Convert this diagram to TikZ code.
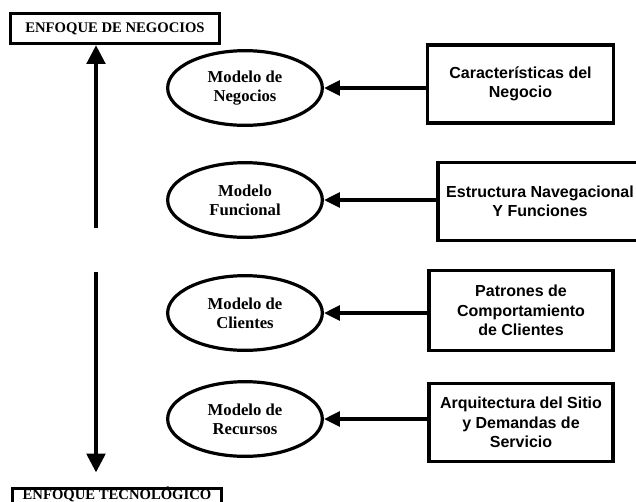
\documentclass[tikz,border=0pt]{standalone}
\usepackage{fontspec}
\setmainfont{Liberation Serif}
\setsansfont{Liberation Sans}
\usepackage{tikz}
\usetikzlibrary{shapes,arrows.meta,positioning,calc}

\begin{document}
\begin{tikzpicture}[x=0.75pt,y=-0.75pt,
      enfoque/.style={rectangle,draw,line width=2.2pt,align=center,inner sep=2pt,
        minimum width=157pt,font=\fontsize{11}{13}\selectfont\bfseries},
      modelo/.style={ellipse,draw,line width=2.4pt,align=center,inner sep=0pt,
        minimum width=116pt,minimum height=56pt,font=\fontsize{12.5}{14}\selectfont\bfseries},
      fuente/.style={rectangle,draw,line width=2.4pt,align=center,inner sep=2pt,
        font=\fontsize{12}{14.5}\selectfont\sffamily\bfseries},
      arrow/.style={-{Triangle[length=12pt,width=11pt]},line width=2.8pt},
      eje/.style={-{Triangle[length=14pt,width=14pt]},line width=2.4pt}
      ]

      \useasboundingbox (0,0) rectangle (636,501);

      \node[enfoque,minimum height=23pt] (negocios) at (115,28.5) {ENFOQUE DE NEGOCIOS};
      \node[enfoque,anchor=north,minimum height=14pt,inner ysep=1.5pt,
        text height=6.4pt,text depth=4pt] (tecnologico) at (117,487) {ENFOQUE TECNOLÓGICO};

      \node[modelo] (mnegocios) at (245,88) {Modelo de\\Negocios};
      \node[modelo] (mfuncional) at (245,200) {Modelo\\Funcional};
      \node[modelo] (mclientes) at (245,313) {Modelo de\\Clientes};
      \node[modelo] (mrecursos) at (245,419) {Modelo de\\Recursos};

      \node[fuente,minimum width=139pt,minimum height=58.5pt] (caracteristicas) at (520.5,84) {
        Características del\\Negocio};
      \node[fuente,minimum width=153pt,minimum height=59pt] (estructura) at (540,201.5) {
        Estructura Navegacional\\Y Funciones};
      \node[fuente,minimum width=138pt,minimum height=60pt] (patrones) at (521,310.5) {
        Patrones de\\Comportamiento\\de Clientes};
      \node[fuente,minimum width=138pt,minimum height=58pt] (arquitectura) at (521,422.5) {
        Arquitectura del Sitio\\y Demandas de\\Servicio};

      \draw[arrow] (caracteristicas.west |- mnegocios.east) -- (mnegocios.east);
      \draw[arrow] (estructura.west |- mfuncional.east) -- (mfuncional.east);
      \draw[arrow] (patrones.west |- mclientes.east) -- (mclientes.east);
      \draw[arrow] (arquitectura.west |- mrecursos.east) -- (mrecursos.east);

      \coordinate (corteA) at (96,228);
      \coordinate (corteB) at (96,272);
      \draw[eje] (corteA) -- (corteA |- negocios.south);
      \draw[eje,shorten >=11pt] (corteB) -- (corteB |- tecnologico.north);

    \end{tikzpicture}
\end{document}
